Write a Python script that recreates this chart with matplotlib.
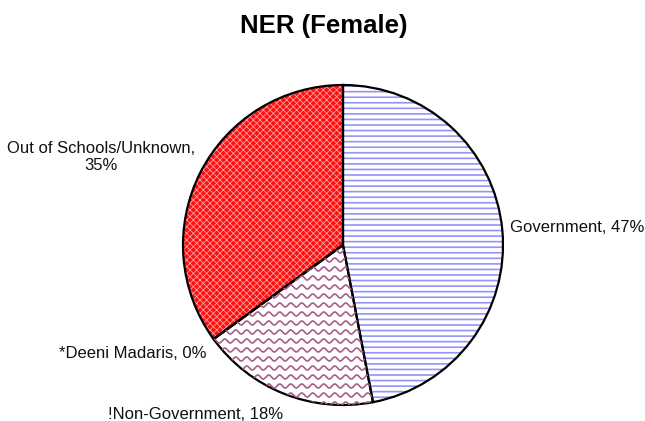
import matplotlib

matplotlib.use("Agg", force=True)

import matplotlib.pyplot as plt
import numpy as np

plt.rcParams["font.family"] = ["Liberation Sans", "DejaVu Sans"]
plt.rcParams["hatch.linewidth"] = 1.2

# data
categories = ["Government", "!Non-Government", "*Deeni Madaris", "Out of Schools/Unknown"]
shares = [47, 18, 0, 35]
label_text = [
    "Government, 47%",
    "!Non-Government, 18%",
    "*Deeni Madaris, 0%",
    "Out of Schools/Unknown,\n35%",
]

# styling per slice
fills = ["white", "white", "white", "#FF1010"]
hatch_colors = ["#9494F8", "white", "white", "#FFA8A8"]
hatches = ["---", None, None, "xxxxx"]
hatch_widths = [1.2, 1.0, 1.0, 0.55]
wave_color = "#A85C8A"

# label placement (data units, pie radius = 1) and alignment
label_pos = [(1.044, 0.11), (-0.92, -1.06), (-0.85, -0.68), (-1.51, 0.55)]
label_ha = ["left", "center", "right", "center"]

fig = plt.figure(figsize=(6.45, 4.21), dpi=100)
ax = fig.add_axes([0, 0, 1, 1])

wedges, _ = ax.pie(
    shares,
    startangle=90,
    counterclock=False,
    colors=fills,
    wedgeprops=dict(linewidth=0),
)
for w, h, hc, hw in zip(wedges, hatches, hatch_colors, hatch_widths):
    w.set_edgecolor(hc)
    w.set_linewidth(0)
    if h:
        w.set_hatch(h)
        if hasattr(w, "set_hatch_linewidth"):
            w.set_hatch_linewidth(hw)

# wavy fill for the non-government slice
px = 1 / 160
xs = np.linspace(-1.1, 0.4, 800)
for y0 in np.arange(-1.05, 0.2, 9.0 * px):
    line, = ax.plot(xs, y0 + 2.0 * px * np.sin(2 * np.pi * xs / (11.0 * px)),
                    color=wave_color, lw=1.2)
    line.set_clip_path(wedges[1])

# outlines
ax.pie(
    shares,
    startangle=90,
    counterclock=False,
    wedgeprops=dict(fill=False, edgecolor="black", linewidth=1.6),
)

for txt, (x, y), ha in zip(label_text, label_pos, label_ha):
    ax.text(x, y, txt, ha=ha, va="center", fontsize=12, color="#111111",
            multialignment="center", linespacing=1.1)

ax.set_xlim(-343 / 160, 302 / 160)
ax.set_ylim(-176 / 160, 245 / 160)
ax.set_aspect("auto")
ax.axis("off")

fig.text(324 / 645, 1 - 26 / 421, "NER (Female)", ha="center", va="center",
         fontsize=18.5, fontweight="bold")

fig.savefig("out.png", dpi=100)
